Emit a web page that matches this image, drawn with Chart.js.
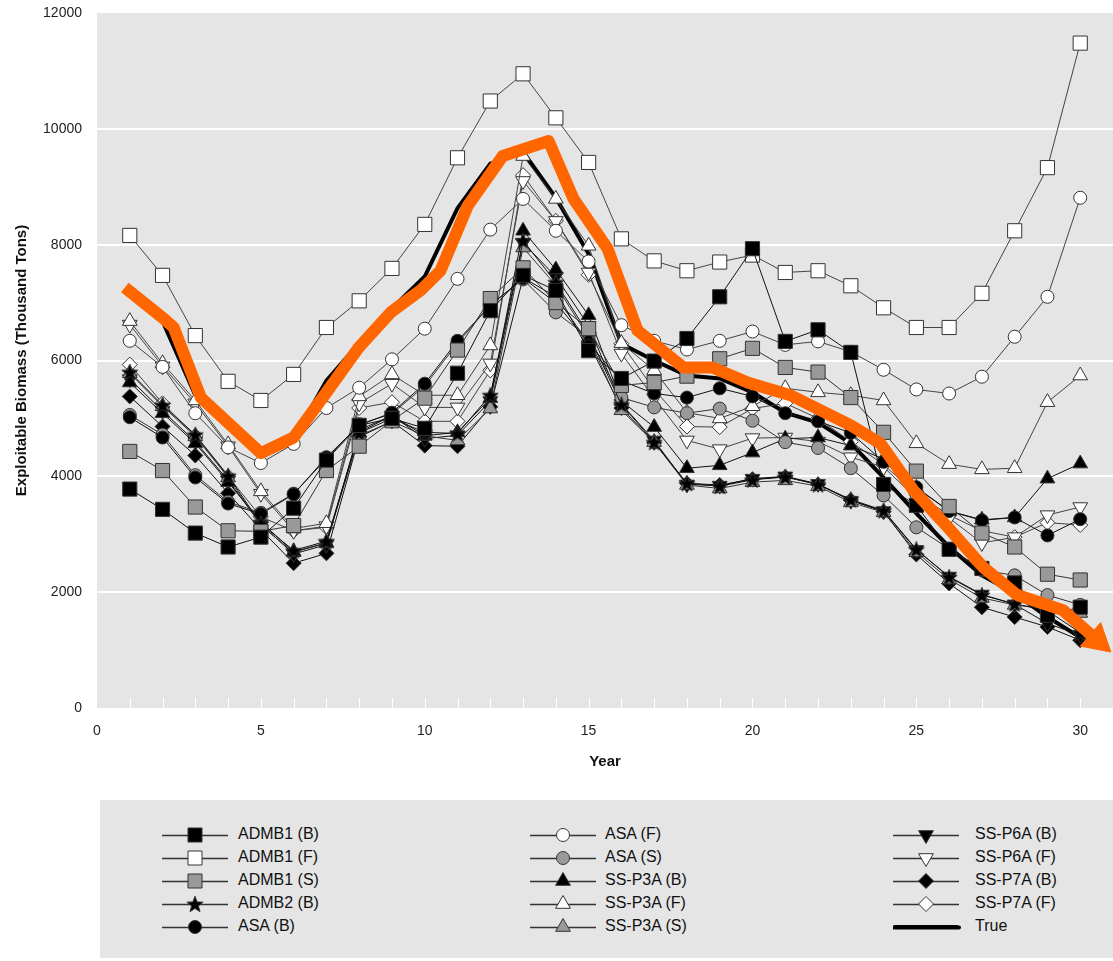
<!DOCTYPE html>
<html>
<head>
<meta charset="utf-8">
<title>Exploitable Biomass</title>
<script src="https://cdn.jsdelivr.net/npm/chart.js@4.4.1/dist/chart.umd.min.js"></script>
<style>
    body { margin: 0; background: #fff; font-family: "Liberation Sans", Arial, sans-serif; }
    #wrap { position: relative; width: 1113px; height: 961px; overflow: hidden; }
    #biomassChart { position: absolute; left: 0; top: 0; }
    #legend { position: absolute; left: 100px; top: 800px; width: 1013px; height: 158px; background: #e5e5e5; }
    .item { position: absolute; height: 22px; }
    .item canvas { position: absolute; left: 0; top: 0; }
    .item span { position: absolute; top: 1px; font-size: 16px; color: #111; white-space: nowrap; }
</style>
</head>
<body>
<div id="wrap">
    <canvas id="biomassChart" width="1113" height="790"></canvas>
    <div id="legend"></div>
</div>
<script>
// Gadi
var years = [1, 2, 3, 4, 5, 6, 7, 8, 9, 10, 11, 12, 13, 14, 15, 16, 17, 18, 19, 20, 21, 22, 23, 24, 25, 26, 27, 28, 29, 30];

// Novērtējumi (tūkst. tonnu)
var admb1B = [3780, 3430, 3020, 2780, 2950, 3450, 4280, 4880, 5000, 4830, 5780, 6860, 7470, 7210, 6170, 5690, 5990, 6380, 7100, 7930, 6330, 6530, 6140, 3860, 3500, 2740, 2410, 2160, 1600, 1740];
var admb1F = [8160, 7470, 6430, 5640, 5310, 5760, 6570, 7030, 7590, 8350, 9500, 10480, 10950, 10190, 9420, 8100, 7720, 7550, 7700, 7820, 7520, 7550, 7290, 6910, 6570, 6570, 7160, 8240, 9330, 11480];
var admb1S = [4430, 4100, 3470, 3060, 3050, 3150, 4100, 4520, 4960, 5350, 6180, 7070, 7600, 7000, 6550, 5570, 5620, 5730, 6030, 6210, 5880, 5800, 5360, 4760, 4090, 3480, 3020, 2780, 2310, 2210];
var admb2B = [5800, 5230, 4720, 4010, 3180, 2720, 2880, 4750, 5000, 4760, 4740, 5400, 8070, 7350, 6450, 5240, 4590, 3880, 3830, 3940, 3990, 3860, 3600, 3410, 2740, 2260, 1950, 1800, 1680, 1300];
var asaB = [5020, 4670, 3980, 3530, 3350, 3690, 4330, 4880, 5100, 5600, 6340, 6950, 7420, 7000, 6300, 5650, 5430, 5360, 5520, 5380, 5090, 4950, 4750, 4250, 3810, 3400, 3240, 3290, 2980, 3260];
var asaF = [6340, 5890, 5090, 4500, 4230, 4560, 5180, 5530, 6020, 6550, 7410, 8260, 8790, 8240, 7710, 6610, 6340, 6190, 6340, 6500, 6270, 6330, 6150, 5840, 5500, 5430, 5720, 6410, 7100, 8810];
var asaS = [5060, 4720, 4020, 3560, 3370, 3700, 4300, 4900, 5080, 5560, 6300, 6960, 7400, 6830, 6400, 5360, 5190, 5090, 5170, 4960, 4590, 4490, 4140, 3670, 3120, 2750, 2380, 2290, 1950, 1780];
var ssp3aB = [5620, 5090, 4570, 3900, 3210, 2700, 2850, 4760, 5050, 4700, 4760, 5350, 8240, 7570, 6780, 5300, 4850, 4140, 4190, 4410, 4650, 4670, 4530, 4300, 3800, 3400, 3250, 3290, 3960, 4220];
var ssp3aF = [6680, 5950, 5310, 4550, 3740, 3100, 3190, 5380, 5760, 5400, 5400, 6260, 9530, 8790, 7980, 6300, 5830, 5100, 5000, 5210, 5520, 5450, 5400, 5310, 4570, 4210, 4120, 4140, 5280, 5740];
var ssp3aS = [5780, 5210, 4690, 3980, 3150, 2690, 2850, 4700, 4950, 4700, 4620, 5170, 7950, 7300, 6400, 5140, 4590, 3850, 3790, 3900, 3930, 3830, 3550, 3380, 2690, 2220, 1900, 1780, 1710, 1640];
var ssp6aB = [5680, 5130, 4600, 3930, 3170, 2660, 2820, 4800, 5050, 4650, 4710, 5300, 8030, 7450, 6600, 5250, 4620, 3860, 3840, 3960, 4000, 3870, 3580, 3400, 2730, 2270, 1960, 1790, 1460, 1260];
var ssp6aF = [6620, 5900, 5260, 4520, 3700, 3060, 3140, 5260, 5600, 5190, 5190, 5950, 9100, 8410, 7520, 6120, 5350, 4620, 4470, 4660, 4670, 4600, 4330, 4160, 3620, 3280, 2850, 2950, 3330, 3470];
var ssp7aB = [5380, 4860, 4360, 3710, 3080, 2500, 2670, 4680, 4950, 4530, 4520, 5200, 7430, 7100, 6300, 5180, 4580, 3880, 3850, 3950, 3990, 3860, 3590, 3390, 2650, 2150, 1740, 1570, 1400, 1170];
var ssp7aF = [5930, 5260, 4700, 4000, 3300, 3060, 3120, 5180, 5280, 4950, 4950, 5830, 9200, 8410, 7480, 6290, 5500, 4860, 4850, 5170, 5260, 5000, 4600, 4200, 3700, 3330, 3060, 2950, 3200, 3160];
var trueB = [7250, 6680, 5400, 4900, 4400, 4650, 5650, 6300, 6900, 7450, 8630, 9400, 9600, 8810, 7840, 6290, 6000, 5740, 5690, 5450, 5100, 4930, 4570, 3980, 3360, 2780, 2290, 1980, 1570, 1220];

// Oranžā bulta (ar roku zīmēta tendence)
var trendX = [0.85, 2.04, 2.34, 3.17, 5.0, 6.0, 7.04, 7.98, 8.96, 9.87, 10.48, 11.31, 12.38, 13.78, 14.54, 15.58, 16.49, 17.89, 18.78, 19.85, 21.16, 23.0, 23.9, 24.91, 26.04, 27.04, 28.08, 29.47, 30.52];
var trendY = [7260, 6720, 6570, 5360, 4400, 4670, 5480, 6220, 6830, 7210, 7550, 8670, 9530, 9790, 8790, 7930, 6520, 5880, 5880, 5620, 5400, 4880, 4570, 3760, 3070, 2430, 1950, 1690, 1170];

// Ass iedaļas
var xTickLabels = [0, 5, 10, 15, 20, 25, 30];
var yTickLabels = [0, 2000, 4000, 6000, 8000, 10000, 12000];

var GREY = '#e5e5e5';
var ORANGE = '#ff6600';

// Zvaigznes zīmēšana
function drawStar(g, cx, cy, outer, inner, fill) {
    g.beginPath();
    for (var i = 0; i < 10; i++) {
        var r = i % 2 === 0 ? outer : inner;
        var a = -Math.PI / 2 + i * Math.PI / 5;
        var px = cx + Math.cos(a) * r, py = cy + Math.sin(a) * r;
        if (i === 0) g.moveTo(px, py); else g.lineTo(px, py);
    }
    g.closePath();
    g.fillStyle = fill;
    g.fill();
    g.strokeStyle = '#333';
    g.lineWidth = 1;
    g.stroke();
}

var starImg = document.createElement('canvas');
starImg.width = 18;
starImg.height = 18;
drawStar(starImg.getContext('2d'), 9, 9.8, 8.5, 3.6, '#000');

// Marķieru veidi
var shapes = {
    square: { style: 'rect', radius: 10, rotation: 0 },
    circle: { style: 'circle', radius: 6.5, rotation: 0 },
    up: { style: 'triangle', radius: 8.5, rotation: 0 },
    down: { style: 'triangle', radius: 8.5, rotation: 180 },
    diamond: { style: 'rectRot', radius: 7.5, rotation: 0 },
    star: { style: starImg, radius: 9, rotation: 0 }
};

var series = [
    { label: 'ADMB1 (B)', data: admb1B, shape: 'square', fill: '#000', line: '#111' },
    { label: 'ADMB1 (F)', data: admb1F, shape: 'square', fill: '#fff', line: '#444' },
    { label: 'ADMB1 (S)', data: admb1S, shape: 'square', fill: '#999', line: '#333' },
    { label: 'ADMB2 (B)', data: admb2B, shape: 'star', fill: '#000', line: '#111' },
    { label: 'ASA (B)', data: asaB, shape: 'circle', fill: '#000', line: '#111' },
    { label: 'ASA (F)', data: asaF, shape: 'circle', fill: '#fff', line: '#444' },
    { label: 'ASA (S)', data: asaS, shape: 'circle', fill: '#999', line: '#333' },
    { label: 'SS-P3A (B)', data: ssp3aB, shape: 'up', fill: '#000', line: '#111' },
    { label: 'SS-P3A (F)', data: ssp3aF, shape: 'up', fill: '#fff', line: '#444' },
    { label: 'SS-P3A (S)', data: ssp3aS, shape: 'up', fill: '#999', line: '#333' },
    { label: 'SS-P6A (B)', data: ssp6aB, shape: 'down', fill: '#000', line: '#111' },
    { label: 'SS-P6A (F)', data: ssp6aF, shape: 'down', fill: '#fff', line: '#444' },
    { label: 'SS-P7A (B)', data: ssp7aB, shape: 'diamond', fill: '#000', line: '#111' },
    { label: 'SS-P7A (F)', data: ssp7aF, shape: 'diamond', fill: '#fff', line: '#444' }
];

function toPoints(xs, ys) {
    return ys.map(function (v, i) { return { x: xs[i], y: v }; });
}

var datasets = series.map(function (s, i) {
    var sh = shapes[s.shape];
    return {
        label: s.label,
        data: toPoints(years, s.data),
        borderColor: s.line,
        borderWidth: 1,
        pointStyle: sh.style,
        pointRadius: sh.radius,
        pointRotation: sh.rotation,
        pointBackgroundColor: s.fill,
        pointBorderColor: '#333',
        pointBorderWidth: 1,
        tension: 0,
        order: i + 1
    };
});

datasets.push({
    label: 'True',
    data: toPoints(years, trueB),
    borderColor: '#000',
    borderWidth: 4,
    pointRadius: 0,
    tension: 0,
    order: 30
});

// Oranžā līnija ar bultas galu
datasets.push({
    label: 'trend',
    data: toPoints(trendX, trendY),
    borderColor: ORANGE,
    borderWidth: 12,
    borderJoinStyle: 'round',
    pointStyle: 'triangle',
    pointRadius: trendY.map(function (v, i) { return i === trendY.length - 1 ? 18 : 0; }),
    pointRotation: 131,
    pointBackgroundColor: ORANGE,
    pointBorderColor: ORANGE,
    pointBorderWidth: 1,
    tension: 0,
    clip: false,
    order: 0
});

// Fons un baltās iedaļu svītras zīmēšanas laukumā
var plotBackground = {
    id: 'plotBackground',
    beforeDraw: function (chart) {
        var a = chart.chartArea, ctx = chart.ctx;
        ctx.save();
        ctx.fillStyle = GREY;
        ctx.fillRect(a.left, a.top, a.right - a.left, a.bottom - a.top);
        ctx.restore();
    },
    beforeDatasetsDraw: function (chart) {
        var a = chart.chartArea, ctx = chart.ctx, xs = chart.scales.x;
        ctx.save();
        ctx.strokeStyle = '#fff';
        ctx.lineWidth = 1;
        for (var i = 1; i <= 31; i++) {
            var px = Math.round(xs.getPixelForValue(i)) + 0.5;
            ctx.beginPath();
            ctx.moveTo(px, a.bottom);
            ctx.lineTo(px, a.bottom - 10);
            ctx.stroke();
        }
        ctx.restore();
    }
};

var ctx = document.getElementById('biomassChart').getContext('2d');
var chart = new Chart(ctx, {
    type: 'line',
    data: { datasets: datasets },
    options: {
        responsive: false,
        animation: false,
        devicePixelRatio: 1,
        layout: { autoPadding: false, padding: { left: 0, right: 0, top: 13, bottom: 0 } },
        plugins: {
            legend: { display: false },
            tooltip: { enabled: false }
        },
        scales: {
            x: {
                type: 'linear',
                min: 0,
                max: 31,
                afterBuildTicks: function (scale) {
                    scale.ticks = xTickLabels.map(function (v) { return { value: v }; });
                },
                afterFit: function (scale) {
                    scale.height = 82;
                    scale.paddingLeft = 0;
                    scale.paddingRight = 0;
                },
                grid: { display: false, drawTicks: false },
                border: { display: false },
                ticks: {
                    padding: 15,
                    maxRotation: 0,
                    color: '#222',
                    font: { family: 'Liberation Sans', size: 14 }
                },
                title: {
                    display: true,
                    text: 'Year',
                    color: '#111',
                    padding: { top: 0, bottom: 19 },
                    font: { family: 'Liberation Sans', size: 15, weight: 'bold' }
                }
            },
            y: {
                min: 0,
                max: 12000,
                afterBuildTicks: function (scale) {
                    scale.ticks = yTickLabels.map(function (v) { return { value: v }; });
                },
                afterFit: function (scale) {
                    scale.width = 97;
                    scale.paddingTop = 0;
                    scale.paddingBottom = 0;
                },
                grid: {
                    drawTicks: false,
                    lineWidth: 2,
                    color: function (c) {
                        return (c.tick && (c.tick.value === 0 || c.tick.value === 12000)) ? 'rgba(0,0,0,0)' : '#ffffff';
                    }
                },
                border: { display: false },
                ticks: {
                    padding: 15,
                    color: '#222',
                    font: { family: 'Liberation Sans', size: 14 },
                    callback: function (v) { return String(v); }
                },
                title: {
                    display: true,
                    text: 'Exploitable Biomass (Thousand Tons)',
                    color: '#111',
                    padding: { top: 13, bottom: 0 },
                    font: { family: 'Liberation Sans', size: 15, weight: 'bold' }
                }
            }
        }
    },
    plugins: [plotBackground]
});

// Leģenda: trīs kolonnas pa pieciem ierakstiem
function drawLegendMarker(g, s, cx, cy) {
    g.fillStyle = s.fill;
    g.strokeStyle = '#333';
    g.lineWidth = 1;
    if (s.shape === 'star') { drawStar(g, cx, cy + 0.8, 8.5, 3.6, s.fill); return; }
    g.beginPath();
    if (s.shape === 'square') {
        g.rect(cx - 7, cy - 7, 14, 14);
    } else if (s.shape === 'circle') {
        g.arc(cx, cy, 6.5, 0, Math.PI * 2);
    } else if (s.shape === 'up') {
        g.moveTo(cx, cy - 8.5); g.lineTo(cx + 7.4, cy + 4.3); g.lineTo(cx - 7.4, cy + 4.3); g.closePath();
    } else if (s.shape === 'down') {
        g.moveTo(cx, cy + 8.5); g.lineTo(cx + 7.4, cy - 4.3); g.lineTo(cx - 7.4, cy - 4.3); g.closePath();
    } else if (s.shape === 'diamond') {
        g.moveTo(cx, cy - 7.5); g.lineTo(cx + 7.5, cy); g.lineTo(cx, cy + 7.5); g.lineTo(cx - 7.5, cy); g.closePath();
    }
    g.fill();
    g.stroke();
}

var legendBox = document.getElementById('legend');
var legendItems = series.concat([{ label: 'True', shape: 'none' }]);
var colLine = [62, 430, 793];
var colText = [138, 505, 875];
var rowY = [35, 58, 81, 104, 127];

legendItems.forEach(function (s, i) {
    var col = Math.floor(i / 5), row = i % 5;
    var item = document.createElement('div');
    item.className = 'item';
    item.style.left = colLine[col] + 'px';
    item.style.top = (rowY[row] - 11) + 'px';
    item.style.width = '300px';

    var c = document.createElement('canvas');
    c.width = 70;
    c.height = 22;
    var g = c.getContext('2d');
    g.beginPath();
    g.moveTo(0, 11.5);
    g.lineTo(66, 11.5);
    if (s.shape === 'none') {
        g.strokeStyle = '#000';
        g.lineWidth = 4;
        g.lineCap = 'round';
        g.moveTo(2, 11);
        g.lineTo(64, 11);
        g.stroke();
    } else {
        g.strokeStyle = '#333';
        g.lineWidth = 1.5;
        g.stroke();
        drawLegendMarker(g, s, 33, 11);
    }
    item.appendChild(c);

    var t = document.createElement('span');
    t.textContent = s.label;
    t.style.left = (colText[col] - colLine[col]) + 'px';
    item.appendChild(t);
    legendBox.appendChild(item);
});
</script>
</body>
</html>
